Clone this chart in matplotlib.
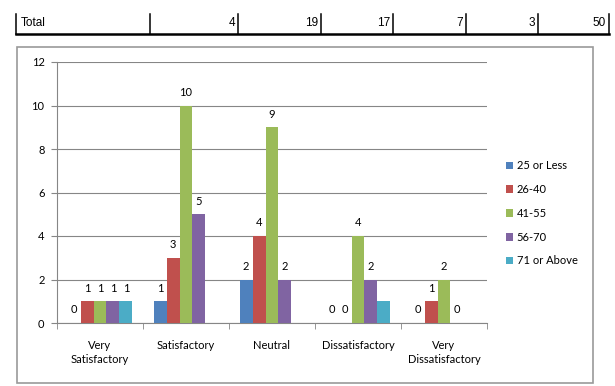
import numpy as np
import matplotlib.pyplot as plt
from matplotlib.lines import Line2D

# Data
categories = ['Very\nSatisfactory', 'Satisfactory', 'Neutral', 'Dissatisfactory', 'Very\nDissatisfactory']
series_names = ['25 or Less', '26-40', '41-55', '56-70', '71 or Above']
s_25_or_less = [0, 1, 2, 0, 0]
s_26_40 = [1, 3, 4, 0, 1]
s_41_55 = [1, 10, 9, 4, 2]
s_56_70 = [1, 5, 2, 2, 0]
s_71_above = [1, None, None, 1, None]
# data points drawn without a value label
unlabeled = [(3, 4)]
totals_label = 'Total'
totals = ['4', '19', '17', '7', '3', '50']

colors = ['#4F81BD', '#C0504D', '#9BBB59', '#8064A2', '#4BACC6']
series = [s_25_or_less, s_26_40, s_41_55, s_56_70, s_71_above]

plt.rcParams['font.family'] = ['Lato', 'DejaVu Sans']

fig = plt.figure(figsize=(6.15, 3.86), dpi=100)

# Table row at the top
tcol = '#000000'
fig.add_artist(Line2D([16/615, 609/615], [1 - 34/386] * 2, color=tcol, lw=1.8))
for xp in [16, 150, 238, 321, 393, 466, 538, 609]:
    fig.add_artist(Line2D([xp/615] * 2, [1 - 14/386, 1 - 34/386], color=tcol, lw=1.1))
fig.text(21/615, 1 - 23/386, totals_label, fontsize=8.5, family='Liberation Sans', va='center')
for xp, t in zip([235, 318, 390, 463, 535, 606], totals):
    fig.text(xp/615, 1 - 23/386, t, fontsize=8.5, family='Liberation Sans', va='center', ha='right')

# Chart box border
fig.add_artist(plt.Rectangle((17/615, 1 - 383/386), (593 - 17)/615, (383 - 47)/386,
                             fill=False, edgecolor='#9a9a9a', lw=1.2))

ax = fig.add_axes([57/615, 1 - 323/386, 430/615, 261/386])
x = np.arange(len(categories))
w = 0.151
for i, (vals, name, c) in enumerate(zip(series, series_names, colors)):
    pos = x + (i - 2) * w
    hv = [np.nan if v is None else v for v in vals]
    ax.bar(pos, hv, width=w, color=c, label=name, zorder=3)
    for j, v in enumerate(vals):
        if v is None or (j, i) in unlabeled:
            continue
        ax.text(pos[j], v + 0.35, str(v), ha='center', va='bottom', fontsize=8)

ax.set_xlim(-0.5, len(categories) - 0.5)
ax.set_ylim(0, 12)
ax.set_yticks(range(0, 13, 2))
ax.set_xticks(x)
ax.set_xticklabels(categories, fontsize=8, linespacing=1.4)
ax.set_xticks(np.arange(-0.5, len(categories), 1), minor=True)
ax.tick_params(axis='x', which='major', length=0, pad=12)
ax.tick_params(axis='x', which='minor', length=4, color='#868686')
ax.tick_params(axis='y', labelsize=8, length=4, color='#868686', pad=5)
ax.yaxis.grid(True, color='#868686', lw=0.8, zorder=0)
ax.set_axisbelow(True)
for s in ['top', 'right']:
    ax.spines[s].set_visible(False)
for s in ['left', 'bottom']:
    ax.spines[s].set_color('#868686')
ax.set_facecolor('none')

ax.legend(loc='center left', bbox_to_anchor=(1.02, 0.42), frameon=False, fontsize=8,
          handlelength=0.7, handleheight=0.7, handletextpad=0.3, labelspacing=1.15)

fig.savefig('out.png', dpi=100)
